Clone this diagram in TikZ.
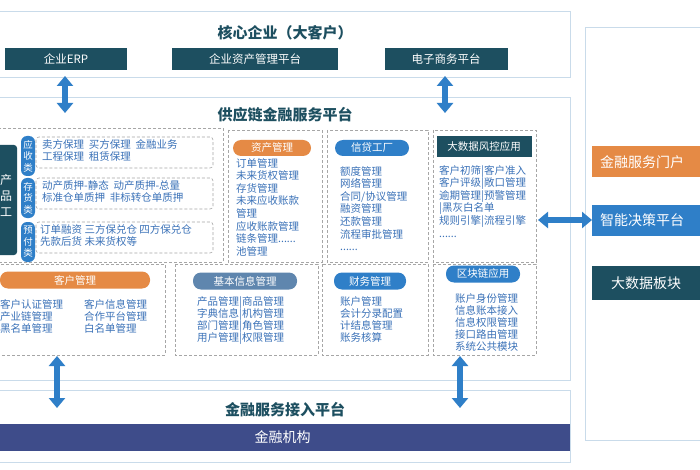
\documentclass[tikz,border=0pt]{standalone}
\usepackage{fontspec}
\setmainfont{Noto Sans CJK SC}
\usetikzlibrary{arrows.meta}
\definecolor{tealc}{HTML}{1D4F60}
\definecolor{blu}{HTML}{2F7FC8}
\definecolor{txt}{HTML}{3B72B8}
\definecolor{org}{HTML}{E58A45}
\definecolor{gry}{HTML}{5F86AE}
\definecolor{ind}{HTML}{3E4C8A}
\definecolor{frm}{HTML}{C9DBEA}
\begin{document}
\begin{tikzpicture}[x=1pt,y=-1pt,
 frame/.style={draw=frm,line width=1pt,fill=white},
 dbox/.style={draw=gray!70,densely dashed,line width=0.6pt},
 title/.style={font=\bfseries\fontsize{15}{17}\selectfont,text=tealc},
 tbox/.style={fill=tealc,text=white,font=\fontsize{11.5}{13}\selectfont,inner sep=0},
 pill/.style={rounded corners=8pt,text=white,font=\fontsize{10.5}{12}\selectfont,inner sep=0},
 lst/.style={text=txt,font=\fontsize{10.5}{12}\selectfont,align=left,inner sep=0,anchor=north west},
 dbl/.style={{Triangle[width=16pt,length=10pt]}-{Triangle[width=16pt,length=10pt]},line width=6pt,draw=blu}]
\useasboundingbox (0,0) rectangle (700,470);
\fill[white] (0,0) rectangle (700,470);
% right panel
\draw[frame] (585,28) rectangle (712,440);
\node[fill=org,text=white,font=\fontsize{14}{16}\selectfont,minimum width=110pt,minimum height=31pt,anchor=west,inner sep=0,text width=102pt] (portal) at (592,162) {\hspace*{4pt}金融服务门户};
\node[fill=blu,text=white,font=\fontsize{14}{16}\selectfont,minimum width=110pt,minimum height=31pt,anchor=west,inner sep=0,text width=102pt] (dec) at (592,220) {\hspace*{4pt}智能决策平台};
\node[fill=tealc,text=white,font=\fontsize{14}{16}\selectfont,minimum width=110pt,minimum height=34pt,anchor=west,inner sep=0,text width=96pt] (bd) at (592,283) {\hspace*{12pt}大数据板块};
% top
\draw[frame] (-5,12) rectangle (570,78);
\node[title] (core) at (285,33) {核心企业（大客户）};
\node[tbox,minimum width=122pt,minimum height=22pt] (erp) at (66,59) {企业ERP};
\node[tbox,minimum width=166pt,minimum height=22pt] (asset) at (255,59) {企业资产管理平台};
\node[tbox,minimum width=123pt,minimum height=22pt] (ecom) at (446,59) {电子商务平台};
% middle
\draw[frame] (-5,98) rectangle (570,380);
\node[title] (scf) at (285,115) {供应链金融服务平台};
\coordinate (a1t) at (65,76); \coordinate (a1b) at (65,113);
\coordinate (a2t) at (445,76); \coordinate (a2b) at (445,113);
\draw[dbl] (a1t) -- (a1b);
\draw[dbl] (a2t) -- (a2b);
% product left
\draw[dbox] (-2,128) rectangle (223,262);
\node[fill=tealc,rounded corners=3pt,minimum width=30pt,minimum height=110pt,inner sep=0] (prod) at (2,200) {};
\node[text=white,font=\fontsize{12}{16}\selectfont,align=center,inner sep=0] (prodt) at (6,195) {产\\品\\工};
\foreach \y/\t in {156/{应\\收\\类},198/{存\\货\\类},242/{预\\付\\类}}
 \node[fill=blu,rounded corners=6pt,minimum width=14pt,minimum height=40pt,text=white,font=\fontsize{9.5}{11.5}\selectfont,align=center,inner sep=0] at (28,\y) {\t};
\draw[dbox,rounded corners=3pt] (36,137) rectangle (213,168);
\draw[dbox,rounded corners=3pt] (36,178) rectangle (213,209);
\draw[dbox,rounded corners=3pt] (36,222) rectangle (213,253);
\node[lst] at (42,139) {卖方保理\ \ 买方保理\ \ 金融业务\\工程保理\ \ 租赁保理};
\node[lst] at (42,180) {动产质押-静态\ \ 动产质押-总量\\标准仓单质押\ \ 非标转仓单质押};
\node[lst] at (40,224) {订单融资\ 三方保兑仓\ 四方保兑仓\\先款后货\ 未来货权等};
% asset mgmt
\draw[dbox] (228,130) rectangle (322,262);
\node[pill,fill=org,minimum width=78pt,minimum height=16pt] (am) at (272,148) {资产管理};
\node[lst,font=\fontsize{10.5}{12.6}\selectfont] at (236,158) {订单管理\\未来货权管理\\存货管理\\未来应收账款\\管理\\应收账款管理\\链条管理......\\池管理};
% credit
\draw[dbox] (327,130) rectangle (428,262);
\node[pill,fill=blu,minimum width=74pt,minimum height=16pt] (cf) at (372,148) {信贷工厂};
\node[lst,font=\fontsize{10.5}{12.6}\selectfont] at (340,166) {额度管理\\网络管理\\合同/协议管理\\融资管理\\还款管理\\流程审批管理\\......};
% big data
\draw[dbox] (433,130) rectangle (536,262);
\node[tbox,minimum width=95pt,minimum height=21pt,font=\fontsize{10.5}{12}\selectfont] (bdr) at (484,147) {大数据风控应用};
\node[lst,font=\fontsize{10.5}{12.6}\selectfont] at (439,165) {客户初筛|客户准入\\客户评级|敞口管理\\逾期管理|预警管理\\|黑灰白名单\\规则引擎|流程引擎\\......};
% row 2
\draw[dbox] (-2,264) rectangle (165,355);
\node[pill,fill=org,minimum width=150pt,minimum height=17pt] (cm) at (75,280) {客户管理};
\node[lst] at (0,299) {客户认证管理\\产业链管理\\黑名单管理};
\node[lst] at (84,299) {客户信息管理\\合作平台管理\\白名单管理};
\draw[dbox] (175,264) rectangle (318,355);
\node[pill,fill=gry,minimum width=104pt,minimum height=17pt] (bi) at (245,281) {基本信息管理};
\node[lst] at (197,296) {产品管理|商品管理\\字典信息|机构管理\\部门管理|角色管理\\用户管理|权限管理};
\draw[dbox] (322,264) rectangle (428,355);
\node[pill,fill=blu,minimum width=72pt,minimum height=17pt] (fm) at (370,281) {财务管理};
\node[lst] at (340,296) {账户管理\\会计分录配置\\计结息管理\\账务核算};
\draw[dbox] (433,264) rectangle (536,355);
\node[pill,fill=blu,minimum width=74pt,minimum height=17pt] (bc) at (483,274) {区块链应用};
\node[lst] at (455,293) {账户身份管理\\信息账本接入\\信息权限管理\\接口路由管理\\系统公共模块};
% horizontal arrow
\coordinate (h1) at (538,220);
\draw[dbl] (h1) -- (dec.west);
% bottom
\draw[frame] (-5,390) rectangle (570,462);
\node[title] (acc) at (285,410) {金融服务接入平台};
\node[fill=ind,text=white,font=\fontsize{14}{16}\selectfont,minimum width=575pt,minimum height=27pt,inner sep=0] (fi) at (282.5,437) {金融机构};
\coordinate (b1t) at (57,356); \coordinate (b1b) at (57,408);
\coordinate (b2t) at (460,356); \coordinate (b2b) at (460,408);
\draw[dbl] (b1t) -- (b1b);
\draw[dbl] (b2t) -- (b2b);
\end{tikzpicture}
\end{document}
